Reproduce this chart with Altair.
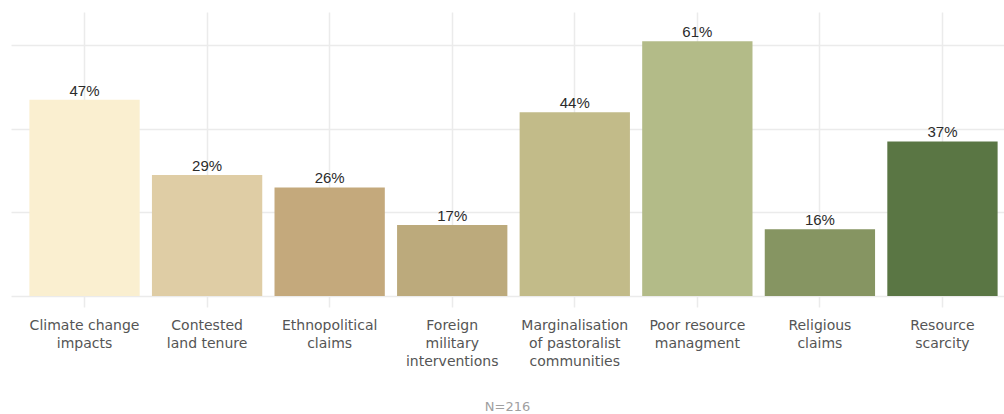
import altair as alt
import pandas as pd

categories = [
    "Climate change\nimpacts",
    "Contested\nland tenure",
    "Ethnopolitical\nclaims",
    "Foreign\nmilitary\ninterventions",
    "Marginalisation\nof pastoralist\ncommunities",
    "Poor resource\nmanagment",
    "Religious\nclaims",
    "Resource\nscarcity",
]
values = [47, 29, 26, 17, 44, 61, 16, 37]
colors = ["#faefd0", "#dfcda5", "#c4a97c", "#bcaa7c", "#c2bb89", "#b3bb88", "#869562", "#5a7644"]
caption = "N=216"

df = pd.DataFrame({"cat": categories, "val": values})
df["lab"] = df["val"].astype(str) + "%"

xenc = alt.X(
    "cat:N",
    sort=categories,
    title=None,
    scale=alt.Scale(range=[0, 1005], paddingInner=0.1, paddingOuter=0.15),
    axis=alt.Axis(
        labelExpr="split(datum.value, '\\n')",
        labelAngle=0,
        labelFont="DejaVu Sans",
        labelFontSize=14,
        labelColor="#555555",
        labelLineHeight=18,
        labelPadding=11,
        labelBaseline="top",
        tickSize=11,
        tickColor="#ebebeb",
        tickWidth=1.5,
        domain=False,
        grid=True,
        gridColor="#ebebeb",
        gridWidth=1.5,
        bandPosition=0.5,
    ),
)
yenc = alt.Y(
    "val:Q",
    title=None,
    scale=alt.Scale(domain=[0, 68], nice=False, zero=True),
    axis=alt.Axis(
        values=[0, 20, 40, 60],
        labels=False,
        ticks=False,
        domain=False,
        grid=True,
        gridColor="#ebebeb",
        gridWidth=1.5,
    ),
)

bars = alt.Chart(df).mark_bar().encode(
    x=xenc,
    y=yenc,
    color=alt.Color("cat:N", sort=categories, scale=alt.Scale(domain=categories, range=colors), legend=None),
)
text = alt.Chart(df).mark_text(
    font="Liberation Sans", fontSize=15, fontWeight=500, color="#2b2b2b", baseline="alphabetic", dy=-4
).encode(x=alt.X("cat:N", sort=categories), y="val:Q", text="lab:N")

chart = (
    alt.layer(bars, text)
    .properties(
        width=993,
        height=284,
        autosize=alt.AutoSizeParams(type="none"),
        padding={"left": 11, "right": 0, "top": 12, "bottom": 118},
        title=alt.TitleParams(
            caption,
            orient="bottom",
            anchor="middle",
            font="DejaVu Sans",
            fontSize=13,
            fontWeight="normal",
            color="#a0a0a0",
            offset=33,
        ),
    )
    .configure_view(stroke=None)
)

chart.save("out.html", embed_options={"renderer": "svg", "actions": False})
